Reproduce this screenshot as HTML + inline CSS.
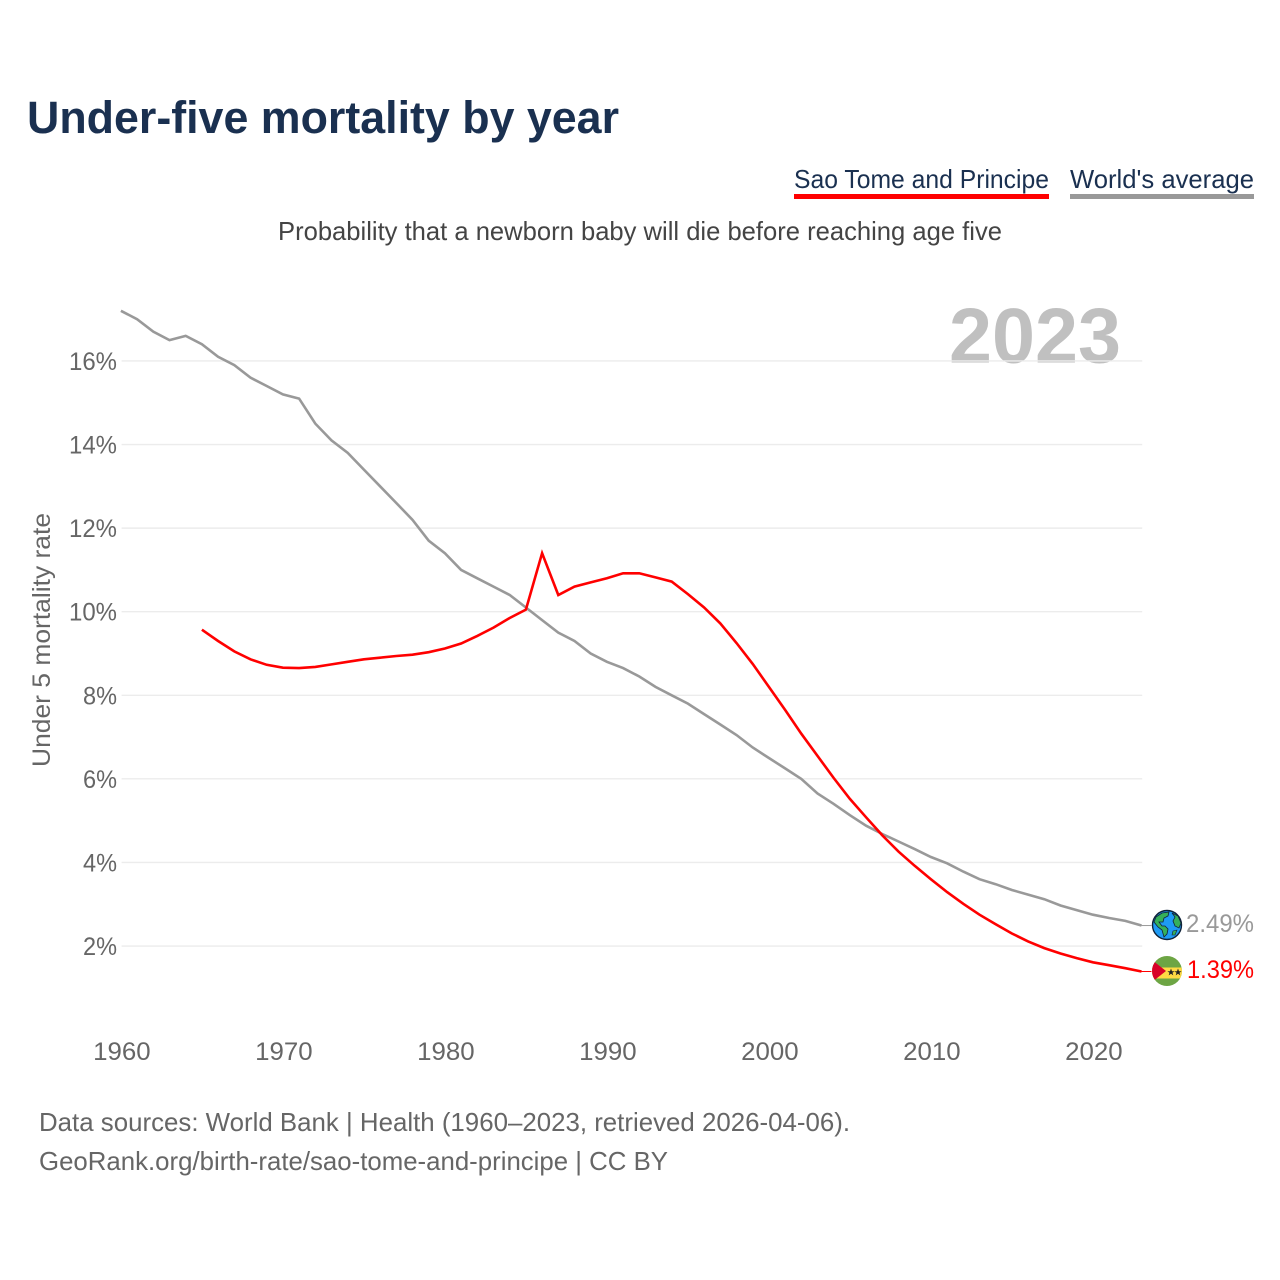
<!DOCTYPE html>
<html lang="en">
<head>
<meta charset="utf-8">
<title>Under-five mortality by year</title>
<style>
html,body{margin:0;padding:0;background:#fff;}
svg{display:block;font-family:"Liberation Sans",Arial,sans-serif;}
</style>
</head>
<body>
<svg id="chart" xmlns="http://www.w3.org/2000/svg" width="1280" height="1280" viewBox="0 0 1280 1280">
  <rect width="1280" height="1280" fill="#ffffff"/>
  <text x="27" y="133" font-size="45" font-weight="700" fill="#1a3050" textLength="592" lengthAdjust="spacingAndGlyphs">Under-five mortality by year</text>
  <text x="794" y="188" font-size="26" fill="#1a3050" textLength="255" lengthAdjust="spacingAndGlyphs">Sao Tome and Principe</text>
  <rect x="794" y="194" width="255" height="5" fill="#ff0000"/>
  <text x="1070" y="188" font-size="26" fill="#1a3050" textLength="184" lengthAdjust="spacingAndGlyphs">World's average</text>
  <rect x="1070" y="194" width="184" height="5" fill="#999999"/>
  <text x="278" y="240" font-size="26" fill="#444444" textLength="724" lengthAdjust="spacingAndGlyphs">Probability that a newborn baby will die before reaching age five</text>
  <text x="949" y="362.5" font-size="78" font-weight="700" fill="#c0c0c0" textLength="172" lengthAdjust="spacingAndGlyphs">2023</text>
  <g id="grid"></g>
  <text transform="translate(50,640) rotate(-90)" text-anchor="middle" font-size="25" fill="#666666" textLength="254" lengthAdjust="spacingAndGlyphs">Under 5 mortality rate</text>
  <g id="yticks"></g>
  <g id="xticks"></g>
  <g id="series"></g>

  <g transform="translate(1167,925)">
    <circle r="14.5" fill="#1e9bf5" stroke="#10233a" stroke-width="1.4"/>
    <path d="M-11,-8 L-5,-12 L2,-13 L1,-9 L-3,-7 L-4,-3 L-8,-3 L-5,1 L-2,1 L1,4 L0,9 L-3,12 L-5,5 L-9,2 L-13,-3Z" fill="#35b05a" stroke="#10233a" stroke-width=".8"/>
    <path d="M5,-12 L11,-9 L14,-2 L12,3 L8,1 L6,-4 L8,-8Z" fill="#35b05a" stroke="#10233a" stroke-width=".8"/>
    <path d="M6,6 L10,5 L8,10 L5,10Z" fill="#35b05a" stroke="#10233a" stroke-width=".6"/>
  </g>
  <g transform="translate(1167,971)">
    <clipPath id="flagClip"><circle r="15"/></clipPath>
    <g clip-path="url(#flagClip)">
      <rect x="-15" y="-15" width="30" height="30" fill="#6da544"/>
      <rect x="-15" y="-3.5" width="30" height="11" fill="#ffda44"/>
      <path d="M-15,-11 L-1,0 L-15,11Z" fill="#d80027"/>
      <path d="M4,-2.5 L5,.2 L7.6,.2 L5.5,1.8 L6.3,4.4 L4,2.8 L1.7,4.4 L2.5,1.8 L.4,.2 L3,.2Z" fill="#222"/>
      <path d="M11,-2.5 L12,.2 L14.6,.2 L12.5,1.8 L13.3,4.4 L11,2.8 L8.7,4.4 L9.5,1.8 L7.4,.2 L10,.2Z" fill="#222"/>
    </g>
  </g>
  <text x="1186" y="932" font-size="25" fill="#999999" textLength="68" lengthAdjust="spacingAndGlyphs">2.49%</text>
  <text x="1187" y="978" font-size="25" fill="#ff0000" textLength="67" lengthAdjust="spacingAndGlyphs">1.39%</text>

  <text x="39" y="1131" font-size="26" fill="#666666" textLength="811" lengthAdjust="spacingAndGlyphs">Data sources: World Bank | Health (1960–2023, retrieved 2026-04-06).</text>
  <text x="39" y="1170" font-size="26" fill="#666666" textLength="629" lengthAdjust="spacingAndGlyphs">GeoRank.org/birth-rate/sao-tome-and-principe | CC BY</text>
</svg>
<script>
const worldStartYear = 1960;
const worldValues = [17.2,17.0,16.7,16.5,16.6,16.4,16.1,15.9,15.6,15.4,15.2,15.1,14.5,14.1,13.8,13.4,13.0,12.6,12.2,11.7,11.4,11.0,10.8,10.6,10.4,10.1,9.8,9.5,9.3,9.0,8.8,8.65,8.45,8.2,8.0,7.8,7.55,7.3,7.05,6.75,6.5,6.25,6.0,5.65,5.4,5.13,4.88,4.68,4.5,4.32,4.13,3.98,3.78,3.6,3.48,3.34,3.23,3.12,2.97,2.86,2.75,2.67,2.6,2.49];
const saoTomeStartYear = 1965;
const saoTomeValues = [9.57,9.3,9.05,8.86,8.73,8.66,8.65,8.68,8.74,8.8,8.86,8.9,8.94,8.97,9.03,9.12,9.24,9.42,9.62,9.85,10.05,11.4,10.4,10.6,10.7,10.8,10.92,10.92,10.82,10.72,10.42,10.1,9.72,9.25,8.75,8.2,7.65,7.08,6.55,6.02,5.52,5.08,4.65,4.26,3.92,3.6,3.29,3.01,2.75,2.52,2.3,2.11,1.95,1.82,1.71,1.61,1.54,1.47,1.39];
const yTickValues = [2,4,6,8,10,12,14,16];
const xTickYears = [1960,1970,1980,1990,2000,2010,2020];

const NS = 'http://www.w3.org/2000/svg';
function xScale(year){ return 120.9 + (year - 1960) * 16.2; }
function yScale(v){ return 1029.6 - v * 41.79; }

const grid = document.getElementById('grid');
const yticks = document.getElementById('yticks');
yTickValues.forEach(function(v){
  const line = document.createElementNS(NS,'line');
  
  
  line.setAttribute('x1', xScale(1960) + 0.7);
  line.setAttribute('x2', xScale(2023) + 0.7);
  line.setAttribute('y1', yScale(v));
  line.setAttribute('y2', yScale(v));
  line.setAttribute('stroke', '#ececec');
  line.setAttribute('stroke-width', '1.4');
  grid.appendChild(line);
  const t = document.createElementNS(NS,'text');
  
  
  t.setAttribute('x', v >= 10 ? 69 : 83);
  t.setAttribute('y', yScale(v) + 9);
  t.setAttribute('font-size', '25');
  t.setAttribute('fill', '#666666');
  t.setAttribute('textLength', v >= 10 ? 48 : 34);
  t.setAttribute('lengthAdjust', 'spacingAndGlyphs');
  t.textContent = v + '%';
  yticks.appendChild(t);
});

const xticks = document.getElementById('xticks');
xTickYears.forEach(function(y){
  const t = document.createElementNS(NS,'text');
  
  
  t.setAttribute('x', xScale(y) - 27.8);
  t.setAttribute('y', 1060);
  t.setAttribute('font-size', '25');
  t.setAttribute('fill', '#666666');
  t.setAttribute('textLength', 57.5);
  t.setAttribute('lengthAdjust', 'spacingAndGlyphs');
  t.textContent = y;
  xticks.appendChild(t);
});

function linePoints(values, start){
  return values.map(function(v,i){
    return xScale(start + i).toFixed(1) + ',' + yScale(v).toFixed(1);
  }).join(' ');
}
const series = document.getElementById('series');

const worldLine = document.createElementNS(NS,'polyline');


worldLine.setAttribute('points', linePoints(worldValues, worldStartYear));
worldLine.setAttribute('fill', 'none');
worldLine.setAttribute('stroke', '#999999');
worldLine.setAttribute('stroke-width', '2.6');
series.appendChild(worldLine);

const saoLine = document.createElementNS(NS,'polyline');


saoLine.setAttribute('points', linePoints(saoTomeValues, saoTomeStartYear));
saoLine.setAttribute('fill', 'none');
saoLine.setAttribute('stroke', '#ff0000');
saoLine.setAttribute('stroke-width', '2.6');
series.appendChild(saoLine);

const worldLead = document.createElementNS(NS,'line');


worldLead.setAttribute('x1', xScale(2023));
worldLead.setAttribute('x2', xScale(2023) + 10);
worldLead.setAttribute('y1', yScale(worldValues[worldValues.length - 1]));
worldLead.setAttribute('y2', yScale(worldValues[worldValues.length - 1]));
worldLead.setAttribute('stroke', '#999999');
worldLead.setAttribute('stroke-width', '1');
series.appendChild(worldLead);

const saoLead = document.createElementNS(NS,'line');


saoLead.setAttribute('x1', xScale(2023));
saoLead.setAttribute('x2', xScale(2023) + 10);
saoLead.setAttribute('y1', yScale(saoTomeValues[saoTomeValues.length - 1]));
saoLead.setAttribute('y2', yScale(saoTomeValues[saoTomeValues.length - 1]));
saoLead.setAttribute('stroke', '#ff0000');
saoLead.setAttribute('stroke-width', '1');
series.appendChild(saoLead);
</script>
</body>
</html>
